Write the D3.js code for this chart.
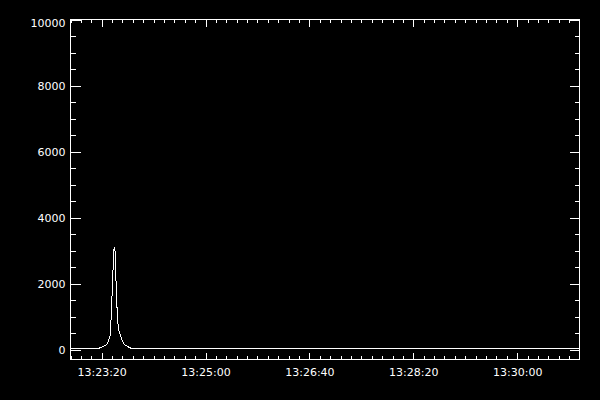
<!DOCTYPE html>
<html>
<head>
<meta charset="utf-8">
<script src="https://cdn.jsdelivr.net/npm/d3@7"></script>
<style>
  html, body { margin: 0; padding: 0; background: #000; }
  svg { display: block; }
  .tick text { font-family: "DejaVu Sans", sans-serif; font-size: 11px; fill: #fff; }
  .tick line { stroke: #fff; shape-rendering: crispEdges; }
</style>
</head>
<body>
<div id="chart_div"></div>
<script>
const times = [
  "13:22:50", "13:23:14", "13:23:17", "13:23:19", "13:23:22", "13:23:25",
  "13:23:26", "13:23:28", "13:23:29", "13:23:30", "13:23:31", "13:23:32",
  "13:23:33", "13:23:34", "13:23:35", "13:23:36", "13:23:38", "13:23:40",
  "13:23:42", "13:23:45", "13:23:48", "13:23:52", "13:31:00"
];
const counts = [
  20, 20, 30, 60, 100, 150,
  230, 380, 900, 1650, 2450, 3100,
  2950, 1900, 1100, 650, 430, 260,
  150, 90, 40, 20, 20
];
const xMajorLabels = ["13:23:20", "13:25:00", "13:26:40", "13:28:20", "13:30:00"];
const yMajorValues = [0, 2000, 4000, 6000, 8000, 10000];
const xDomain = ["13:22:50", "13:31:00"];
const yDomain = [-303, 10000];

const width = 600,
  height = 400;

const parseTime = d3.timeParse("%H:%M:%S");
const fmtTime = d3.timeFormat("%H:%M:%S");

const svg = d3
  .select("#chart_div")
  .append("svg")
  .attr("width", width)
  .attr("height", height)
  .style("background", "#000");

const x = d3
  .scaleTime()
  .domain(xDomain.map(parseTime))
  .range([70.5, 579.5]);

const y = d3.scaleLinear().domain(yDomain).range([359.5, 19.5]);

// minor ticks: every 10 s on x, every 500 on y
const xMinor = d3.timeSecond.every(10).range(x.domain()[0], x.domain()[1]);
const yMinor = d3.range(0, 10001, 500);
const xMajor = xMajorLabels.map(parseTime);

function addAxis(axis, tx, ty) {
  const g = svg.append("g").attr("transform", `translate(${tx},${ty})`).call(axis);
  g.select(".domain").remove();
  return g;
}

// bottom
addAxis(d3.axisBottom(x).tickValues(xMinor).tickSizeInner(-3.5).tickSizeOuter(0).tickFormat(""), 0, 359.5);
addAxis(d3.axisBottom(x).tickValues(xMajor).tickSizeInner(-7).tickSizeOuter(0).tickPadding(9).tickFormat(fmtTime), 0, 359.5);
// top
addAxis(d3.axisTop(x).tickValues(xMinor).tickSizeInner(-3.5).tickSizeOuter(0).tickFormat(""), 0, 19.5);
addAxis(d3.axisTop(x).tickValues(xMajor).tickSizeInner(-7).tickSizeOuter(0).tickFormat(""), 0, 19.5);
// left
addAxis(d3.axisLeft(y).tickValues(yMinor).tickSizeInner(-5).tickSizeOuter(0).tickFormat(""), 70.5, 0);
const leftMajor = addAxis(
  d3.axisLeft(y).tickValues(yMajorValues).tickSizeInner(-10).tickSizeOuter(0).tickPadding(5).tickFormat(d3.format("d")),
  70.5, 0
);
// keep the top label inside the window like the original
leftMajor.selectAll(".tick text").attr("y", (d) => Math.max(0, 23 - y(d)));
// right
addAxis(d3.axisRight(y).tickValues(yMinor).tickSizeInner(-5).tickSizeOuter(0).tickFormat(""), 579.5, 0);
addAxis(d3.axisRight(y).tickValues(yMajorValues).tickSizeInner(-10).tickSizeOuter(0).tickFormat(""), 579.5, 0);

// plot box
svg
  .append("rect")
  .attr("x", 70.5)
  .attr("y", 19.5)
  .attr("width", 509)
  .attr("height", 340)
  .attr("fill", "none")
  .attr("stroke", "#fff")
  .style("shape-rendering", "crispEdges");

const data = times.map((t, i) => ({ t: parseTime(t), v: counts[i] }));

const line = d3
  .line()
  .x((d) => x(d.t))
  .y((d) => y(d.v));

svg
  .append("path")
  .datum(data)
  .attr("d", line)
  .attr("fill", "none")
  .attr("stroke", "#fff")
  .attr("stroke-width", 1)
  .style("shape-rendering", "crispEdges");
</script>
</body>
</html>
